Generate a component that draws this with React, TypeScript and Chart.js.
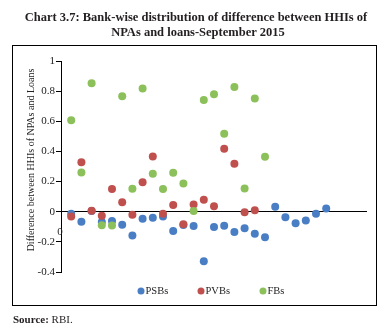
import React, { useEffect, useRef } from "react";
import { Chart, registerables } from "chart.js";

Chart.register(...registerables);

const titleLines = [
  "Chart 3.7: Bank-wise distribution of difference between HHIs of",
  "NPAs and loans-September 2015",
];
const yAxisTitle = "Difference between HHIs of NPAs and Loans";
const seriesNames = ["PSBs", "PVBs", "FBs"];
const seriesColors = ["#4a7ec4", "#c0504d", "#8cc05a"];

const psbValues = [
  -0.013, -0.066, 0.005, -0.069, -0.062, -0.086, -0.157, -0.046, -0.04, -0.031,
  -0.128, -0.088, -0.095, -0.329, -0.102, -0.093, -0.135, -0.11, -0.146, -0.17,
  0.033, -0.036, -0.077, -0.058, -0.013, 0.022,
];
const pvbValues = [
  -0.031, 0.328, 0.007, -0.027, 0.15, 0.062, -0.02, 0.196, 0.366, -0.013,
  0.044, -0.084, 0.048, 0.079, 0.037, 0.417, 0.318, -0.003, 0.009,
];
const fbValues = [
  0.607, 0.26, 0.852, -0.09, -0.091, 0.766, 0.152, 0.818, 0.252, 0.15,
  0.258, 0.187, 0.004, 0.742, 0.779, 0.518, 0.828, 0.154, 0.752, 0.364,
];
const yMin = -0.4;
const yMax = 1;
const yStep = 0.2;
const xMin = 0;
const xMax = 30;

const toPoints = (vals: number[]) => vals.map((v, i) => ({ x: i + 1, y: v }));

const SERIF = "'Liberation Serif', 'DejaVu Serif', serif";

export default function App() {
  const ref = useRef<HTMLCanvasElement | null>(null);

  useEffect(() => {
    if (!ref.current) return;
    const decor = {
      id: "decor",
      beforeDraw(chart: any) {
        const ctx = chart.ctx;
        ctx.save();
        ctx.fillStyle = "#ffffff";
        ctx.fillRect(0, 0, chart.width, chart.height);
        ctx.strokeStyle = "#000";
        ctx.lineWidth = 1;
        ctx.strokeRect(12.5, 45.5, 364, 260);
        ctx.restore();
      },
      afterDraw(chart: any) {
        const ctx = chart.ctx;
        ctx.save();
        ctx.fillStyle = "#231f20";
        ctx.textAlign = "center";
        ctx.textBaseline = "middle";
        ctx.font = `bold 12.5px ${SERIF}`;
        ctx.fillText(titleLines[0], 196, 18);
        ctx.fillText(titleLines[1], 198, 33);
        // y axis title
        ctx.save();
        ctx.translate(31, 160);
        ctx.rotate(-Math.PI / 2);
        ctx.font = `10px ${SERIF}`;
        ctx.fillStyle = "#222";
        ctx.fillText(yAxisTitle, 0, 0);
        ctx.restore();
        // x "0" label
        const xs = chart.scales.x;
        const ys = chart.scales.y;
        ctx.font = `11px ${SERIF}`;
        ctx.fillStyle = "#222";
        ctx.fillText("0", xs.getPixelForValue(0) - 1, ys.getPixelForValue(0) + 20);
        // legend
        const legendX = [141, 201, 263];
        ctx.textAlign = "left";
        ctx.font = `10.5px ${SERIF}`;
        chart.data.datasets.forEach((ds: any, i: number) => {
          ctx.fillStyle = ds.backgroundColor;
          ctx.beginPath();
          ctx.arc(legendX[i], 291, 3.5, 0, Math.PI * 2);
          ctx.fill();
          ctx.fillStyle = "#222";
          ctx.fillText(ds.label, legendX[i] + 4.5, 291.5);
        });
        // source
        ctx.font = `bold 11px ${SERIF}`;
        ctx.fillStyle = "#231f20";
        ctx.fillText("Source:", 13, 320);
        const w = ctx.measureText("Source: ").width;
        ctx.font = `11px ${SERIF}`;
        ctx.fillText("RBI.", 13 + w, 320);
        ctx.restore();
      },
    };

    const chart = new Chart(ref.current, {
      type: "scatter",
      data: {
        datasets: [
          { label: seriesNames[0], data: toPoints(psbValues), backgroundColor: seriesColors[0], borderColor: seriesColors[0], pointRadius: 4, borderWidth: 0, order: 3 },
          { label: seriesNames[1], data: toPoints(pvbValues), backgroundColor: seriesColors[1], borderColor: seriesColors[1], pointRadius: 4, borderWidth: 0, order: 2 },
          { label: seriesNames[2], data: toPoints(fbValues), backgroundColor: seriesColors[2], borderColor: seriesColors[2], pointRadius: 4, borderWidth: 0, order: 1 },
        ],
      },
      options: {
        animation: false,
        responsive: false,
        devicePixelRatio: 1,
        layout: { padding: { top: 61, right: 24, bottom: 61, left: 0 } },
        plugins: {
          title: { display: false },
          tooltip: { enabled: false },
          legend: { display: false },
        },
        scales: {
          x: {
            type: "linear",
            min: xMin,
            max: xMax,
            display: false,
          },
          y: {
            type: "linear",
            min: yMin,
            max: yMax,
            afterFit: (s: any) => {
              s.width = 61;
            },
            ticks: {
              stepSize: yStep,
              padding: 1,
              color: "#222",
              font: { family: SERIF, size: 11 },
              callback: (v: any) => String(Number(Number(v).toFixed(1))),
            },
            border: { display: true, color: "#000", width: 1 },
            grid: {
              drawOnChartArea: true,
              color: (c: any) => (c.tick && Math.abs(c.tick.value) < 1e-9 ? "#000" : "rgba(0,0,0,0)"),
              tickColor: "#000",
              tickLength: 5,
              lineWidth: 1,
            },
          },
        },
      },
      plugins: [decor],
    } as any);
    return () => chart.destroy();
  }, []);

  return (
    <div style={{ position: "fixed", left: 0, top: 0, width: 391, height: 333, background: "#fff" }}>
      <canvas ref={ref} width={391} height={333} style={{ width: 391, height: 333, display: "block" }} />
    </div>
  );
}
